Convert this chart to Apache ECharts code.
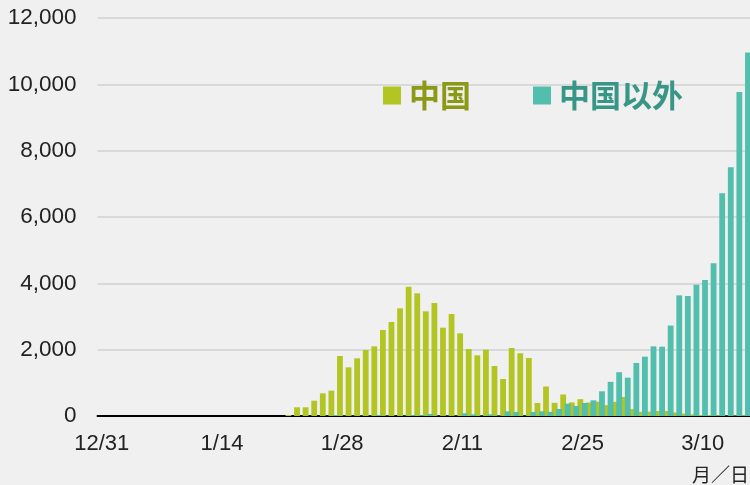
<!DOCTYPE html>
<html>
<head>
<meta charset="utf-8">
<script src="https://cdn.jsdelivr.net/npm/echarts@6/dist/echarts.min.js"></script>
<style>
  html, body { margin: 0; padding: 0; background: #f0f0f0; }
  #chartArea { width: 750px; height: 485px; }
</style>
</head>
<body>
<div id="chartArea"></div>
<script>
// days 12/31 .. 3/15 (2020)
let dates = [
    '12/31', '1/1', '1/2', '1/3', '1/4', '1/5', '1/6', '1/7', '1/8', '1/9', '1/10',
    '1/11', '1/12', '1/13', '1/14', '1/15', '1/16', '1/17', '1/18', '1/19', '1/20',
    '1/21', '1/22', '1/23', '1/24', '1/25', '1/26', '1/27', '1/28', '1/29', '1/30',
    '1/31', '2/1', '2/2', '2/3', '2/4', '2/5', '2/6', '2/7', '2/8', '2/9',
    '2/10', '2/11', '2/12', '2/13', '2/14', '2/15', '2/16', '2/17', '2/18', '2/19',
    '2/20', '2/21', '2/22', '2/23', '2/24', '2/25', '2/26', '2/27', '2/28', '2/29',
    '3/1', '3/2', '3/3', '3/4', '3/5', '3/6', '3/7', '3/8', '3/9', '3/10',
    '3/11', '3/12', '3/13', '3/14', '3/15'
];

// 中国 daily new cases
let chinaCases = [
    0, 0, 0, 0, 0, 0, 0, 0, 0, 0, 0,
    0, 0, 0, 0, 0, 0, 0, 0, 0, 0, 0,
    30, 262, 262, 461, 684, 764, 1809, 1467, 1739, 1990,
    2100, 2593, 2834, 3246, 3900, 3699, 3156, 3407, 2663, 3075,
    2493, 2020, 1830, 2000, 1508, 1116, 2050, 1890, 1749, 394,
    889, 397, 648, 409, 508, 406, 433, 327, 427, 573,
    206, 125, 131, 151, 151, 108, 70, 50, 30, 31,
    26, 11, 18, 27
];

// 中国以外 daily new cases
let outsideCases = [
    0, 0, 0, 0, 0, 0, 0, 0, 0, 0, 0,
    0, 0, 0, 0, 0, 0, 0, 0, 0, 0, 0,
    0, 3, 5, 4, 8, 30, 10, 8, 12, 10,
    32, 12, 6, 10, 28, 26, 60, 10, 12, 10,
    80, 50, 12, 50, 15, 141, 121, 10, 121, 141,
    125, 211, 372, 302, 392, 472, 744, 1030, 1320, 1156,
    1600, 1789, 2100, 2090, 2728, 3638, 3618, 3955, 4100, 4603,
    6714, 7500, 9770, 10960
];

let seriesNames = ['中国', '中国以外'];
let barColors = ['#b3c522', '#52bead'];
let textColors = ['#8a9a16', '#389687'];

let myChart = echarts.init(document.getElementById('chartArea'));

let option = {
    backgroundColor: '#f0f0f0',
    animation: false,
    textStyle: {
        fontFamily: 'Liberation Sans'
    },
    grid: {
        left: 97.5,
        right: -3.4,
        top: 18,
        bottom: 69
    },
    legend: {
        left: 383,
        top: 80,
        padding: 0,
        itemWidth: 18,
        itemHeight: 18,
        itemGap: 62,
        icon: 'rect',
        textStyle: {
            fontFamily: 'Noto Sans CJK SC',
            fontSize: 31,
            fontWeight: 'bold',
            padding: [0, 0, 0, 3]
        },
        data: [
            {name: seriesNames[0], textStyle: {color: textColors[0]}},
            {name: seriesNames[1], textStyle: {color: textColors[1]}}
        ]
    },
    xAxis: {
        type: 'category',
        data: dates,
        boundaryGap: true,
        axisLine: {lineStyle: {color: '#000', width: 2}},
        axisTick: {show: false},
        axisLabel: {
            interval: 13,
            fontSize: 22,
            color: '#222',
            margin: 17
        }
    },
    yAxis: {
        type: 'value',
        min: 0,
        max: 12000,
        interval: 2000,
        axisLine: {show: false},
        axisTick: {show: false},
        splitLine: {lineStyle: {color: '#d9d9d9', width: 2}},
        axisLabel: {
            fontSize: 22.5,
            color: '#222',
            margin: 21,
            formatter: function (v) {
                return v.toLocaleString('en-US');
            }
        }
    },
    graphic: [
        {
            type: 'text',
            right: 1,
            top: 465,
            style: {
                text: '月／日',
                fontFamily: 'Noto Sans CJK JP',
                fontSize: 19,
                fill: '#222'
            }
        }
    ],
    series: [
        {
            name: seriesNames[0],
            type: 'bar',
            data: chinaCases,
            barWidth: 5.8,
            barGap: '-23%',
            itemStyle: {color: barColors[0]}
        },
        {
            name: seriesNames[1],
            type: 'bar',
            data: outsideCases,
            barWidth: 5.8,
            barGap: '-23%',
            itemStyle: {color: barColors[1]}
        }
    ]
};

myChart.setOption(option);
</script>
</body>
</html>
